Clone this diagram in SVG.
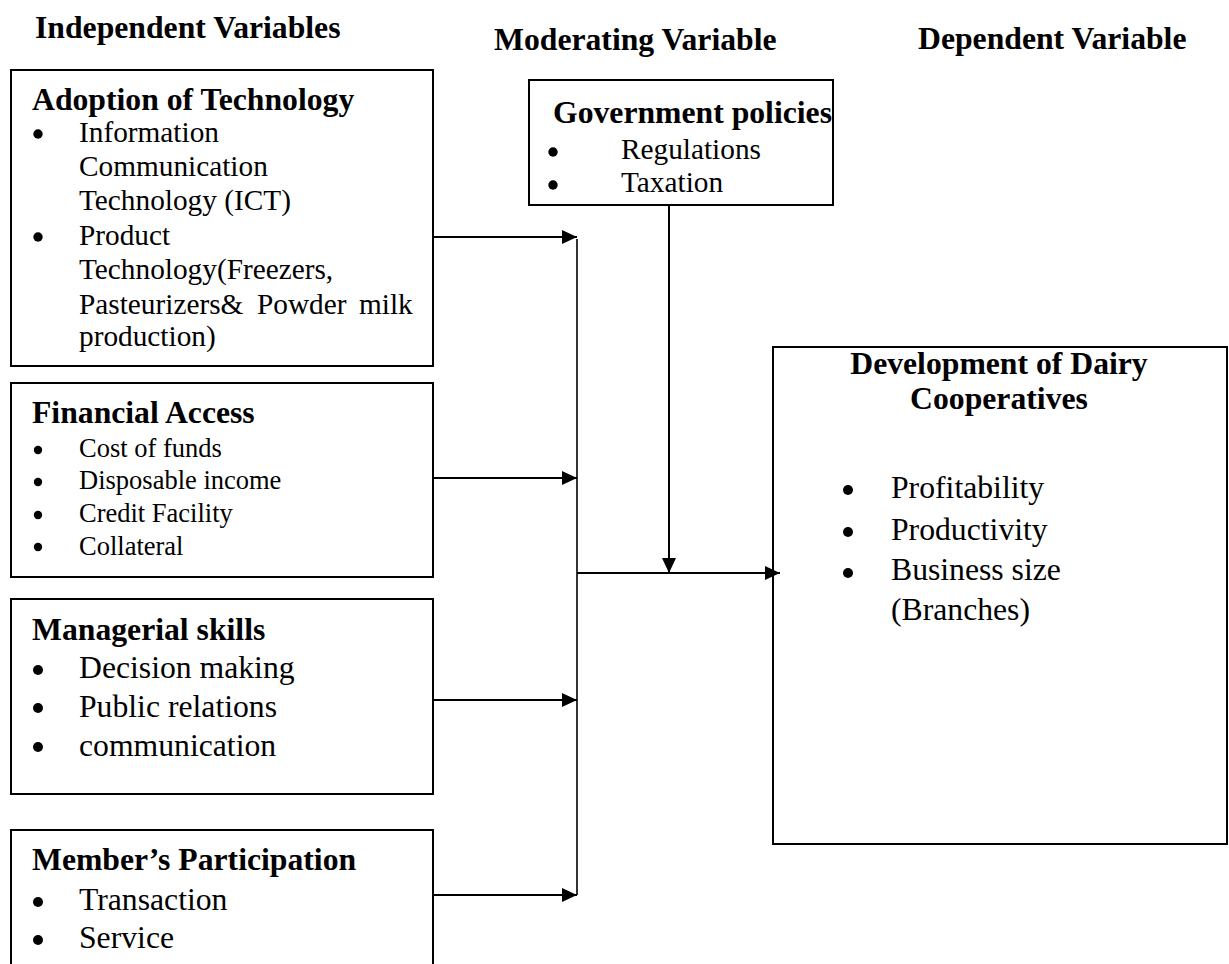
<svg xmlns="http://www.w3.org/2000/svg" width="1229" height="964" viewBox="0 0 1229 964">
<style>
text{font-family:"Liberation Serif","Times New Roman",serif;fill:#000}
.h{font-weight:bold;font-size:31.7px}
.b12{font-size:31.7px}
.b11{font-size:29.3px}
.b10{font-size:26.5px}
.box{fill:#fff;stroke:#000;stroke-width:2}
.dot{fill:#000}
.con{fill:none;stroke:#000;stroke-width:2}
.trunk{fill:none;stroke:#000;stroke-width:1.6}
</style>
<defs>
<marker id="ah" markerUnits="userSpaceOnUse" markerWidth="16" markerHeight="15" refX="15" refY="7" orient="auto">
<path d="M0,0 L15,7 L0,14 z" fill="#000"/>
</marker>
</defs>
<rect width="1229" height="964" fill="#fff"/>

<g id="headers">
<text class="h" x="35" y="38">Independent Variables</text>
<text class="h" x="494" y="50">Moderating Variable</text>
<text class="h" x="918" y="49">Dependent Variable</text>
</g>

<g id="adoption">
<rect class="box" x="11" y="70" width="422" height="296"/>
<text class="h" x="32" y="110">Adoption of Technology</text>
<circle class="dot" cx="38" cy="134" r="4.7"/>
<circle class="dot" cx="38" cy="237" r="4.7"/>
<text class="b11" x="79" y="142">Information</text>
<text class="b11" x="79" y="176">Communication</text>
<text class="b11" x="79" y="210">Technology (ICT)</text>
<text class="b11" x="79" y="245">Product</text>
<text class="b11" x="79" y="279">Technology(Freezers,</text>
<text class="b11" y="314"><tspan x="79">Pasteurizers&amp;</tspan><tspan x="257">Powder</tspan><tspan x="359">milk</tspan></text>
<text class="b11" x="79" y="346">production)</text>
</g>

<g id="financial">
<rect class="box" x="11" y="383" width="422" height="194"/>
<text class="h" x="32" y="423">Financial Access</text>
<circle class="dot" cx="38" cy="450" r="4.2"/>
<circle class="dot" cx="38" cy="482" r="4.2"/>
<circle class="dot" cx="38" cy="515" r="4.2"/>
<circle class="dot" cx="38" cy="547" r="4.2"/>
<text class="b10" x="79" y="457">Cost of funds</text>
<text class="b10" x="79" y="489">Disposable income</text>
<text class="b10" x="79" y="522">Credit Facility</text>
<text class="b10" x="79" y="555">Collateral</text>
</g>

<g id="managerial">
<rect class="box" x="11" y="599" width="422" height="195"/>
<text class="h" x="32" y="640">Managerial skills</text>
<circle class="dot" cx="38" cy="670" r="5"/>
<circle class="dot" cx="38" cy="708" r="5"/>
<circle class="dot" cx="38" cy="747" r="5"/>
<text class="b12" x="79" y="678">Decision making</text>
<text class="b12" x="79" y="717">Public relations</text>
<text class="b12" x="79" y="756">communication</text>
</g>

<g id="member">
<rect class="box" x="11" y="830" width="422" height="150"/>
<text class="h" x="32" y="870">Member’s Participation</text>
<circle class="dot" cx="38" cy="902" r="5"/>
<circle class="dot" cx="38" cy="940" r="5"/>
<text class="b12" x="79" y="910">Transaction</text>
<text class="b12" x="79" y="948">Service</text>
</g>

<g id="government">
<rect class="box" x="529" y="80" width="304" height="125"/>
<text class="h" x="553" y="123">Government policies</text>
<circle class="dot" cx="553" cy="152" r="4.7"/>
<circle class="dot" cx="553" cy="185" r="4.7"/>
<text class="b11" x="621" y="159">Regulations</text>
<text class="b11" x="621" y="192">Taxation</text>
</g>

<g id="development">
<rect class="box" x="773" y="347" width="454" height="497"/>
<text class="h" x="999" y="374" text-anchor="middle">Development of Dairy</text>
<text class="h" x="999" y="409" text-anchor="middle">Cooperatives</text>
<circle class="dot" cx="848" cy="490" r="5"/>
<circle class="dot" cx="848" cy="532" r="5"/>
<circle class="dot" cx="848" cy="573" r="5"/>
<text class="b12" x="891" y="498">Profitability</text>
<text class="b12" x="891" y="540">Productivity</text>
<text class="b12" x="891" y="580">Business size</text>
<text class="b12" x="891" y="620">(Branches)</text>
</g>

<g id="connectors">
<line class="trunk" x1="577" y1="239" x2="577" y2="895"/>
<line class="con" x1="433" y1="237" x2="577" y2="237" marker-end="url(#ah)"/>
<line class="con" x1="433" y1="478" x2="577" y2="478" marker-end="url(#ah)"/>
<line class="con" x1="433" y1="700" x2="577" y2="700" marker-end="url(#ah)"/>
<line class="con" x1="433" y1="895" x2="577" y2="895" marker-end="url(#ah)"/>
<line class="con" x1="669" y1="205" x2="669" y2="573" marker-end="url(#ah)"/>
<line class="con" x1="577" y1="573" x2="780" y2="573" marker-end="url(#ah)"/>
</g>
</svg>
